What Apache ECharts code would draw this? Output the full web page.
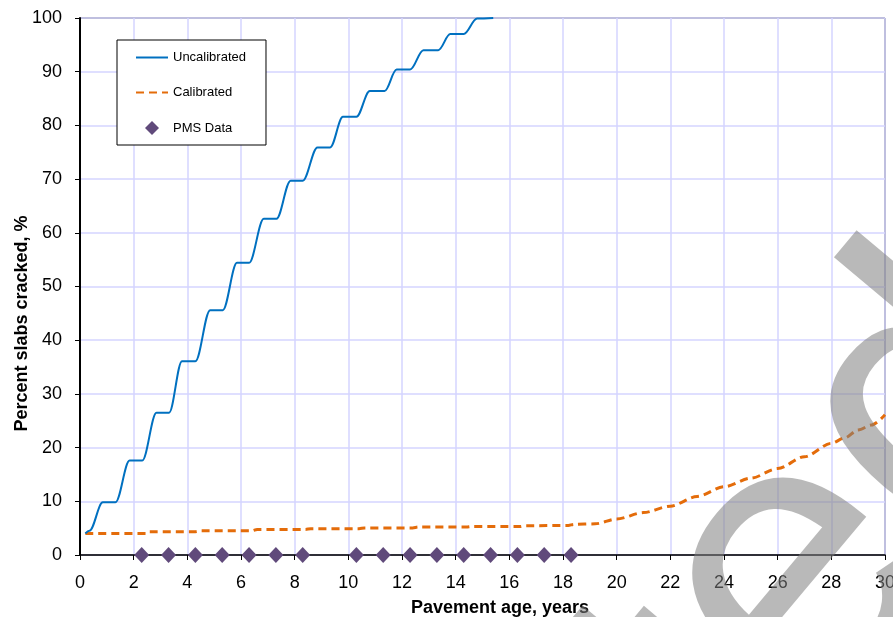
<!DOCTYPE html>
<html>
<head>
<meta charset="utf-8">
<script src="https://cdn.jsdelivr.net/npm/echarts@6/dist/echarts.min.js"></script>
<style>html,body{margin:0;padding:0;background:#fff}#c{width:893px;height:617px}</style>
</head>
<body>
<div id="c"></div>
<script>
// Uncalibrated (years, % cracked)
const uncalX = [0.2,0.35,0.85,1.32,1.85,2.32,2.85,3.32,3.8,4.3,4.85,5.32,5.85,6.3,6.85,7.32,7.85,8.3,8.85,9.32,9.8,10.3,10.8,11.35,11.8,12.3,12.8,13.35,13.8,14.3,14.8,15.4];
const uncalY = [4.0,4.5,9.8,9.8,17.6,17.6,26.5,26.5,36.1,36.1,45.6,45.6,54.4,54.4,62.6,62.6,69.7,69.7,75.9,75.9,81.6,81.6,86.4,86.4,90.4,90.4,94.0,94.0,97.0,97.0,99.9,100];
// Calibrated
const calX = [0.2,2.5,2.6,4.3,4.5,6.4,6.6,8.4,8.6,10.4,10.6,12.4,12.6,14.4,14.6,16.4,16.6,18.2,18.4,19.2,20,21,22,23,24,25,26,27,28,28.5,29,29.5,30];
const calY = [4.0,4.0,4.35,4.35,4.5,4.5,4.75,4.75,4.9,4.9,5.05,5.05,5.2,5.2,5.3,5.3,5.45,5.5,5.7,5.8,6.7,7.9,9.1,10.9,12.7,14.3,16.1,18.3,20.8,21.8,23.3,24.2,26.1];
// PMS data
const pmsX = [2.3,3.3,4.3,5.3,6.3,7.3,8.3,10.3,11.3,12.3,13.3,14.3,15.3,16.3,17.3,18.3];
const pmsY = [0,0,0,0,0,0,0,0,0,0,0,0,0,0,0,0];

const zip = (a,b) => a.map((v,i)=>[v,b[i]]);
const FONT = '"Liberation Sans", Arial, sans-serif';

const chart = echarts.init(document.getElementById('c'), null, {renderer:'canvas'});
chart.setOption({
  animation:false,
  backgroundColor:'#fff',
  textStyle:{fontFamily:FONT},
  grid:{left:80,right:8,top:18,bottom:62,containLabel:false,outerBoundsMode:'none',
        show:true,borderColor:'#000',borderWidth:1,backgroundColor:'transparent'},
  legend:{
    orient:'vertical',left:117,top:40,
    padding:[11,20,10,18],itemGap:22,itemWidth:32,itemHeight:14,
    backgroundColor:'#fff',borderColor:'#000',borderWidth:1,
    textStyle:{fontSize:13,color:'#000',fontFamily:FONT},
    data:[
      {name:'Uncalibrated',itemStyle:{opacity:0}},
      {name:'Calibrated',itemStyle:{opacity:0}},
      {name:'PMS Data',icon:'path://M5,0 L10,5 L5,10 L0,5 Z'}
    ]
  },
  xAxis:{
    type:'value',min:0,max:30,interval:2,
    name:'Pavement age, years',nameLocation:'middle',nameGap:44,
    nameTextStyle:{fontSize:18,fontWeight:'bold',color:'#000',padding:[0,0,0,35]},
    axisLine:{onZero:false,lineStyle:{color:'#000',width:1.5}},
    axisTick:{show:true,length:5,lineStyle:{color:'#000'}},
    axisLabel:{fontSize:18,color:'#000',margin:19},
    splitLine:{show:true,lineStyle:{color:'#d4d4ff',width:1.5}}
  },
  yAxis:{
    type:'value',min:0,max:100,interval:10,
    name:'Percent slabs cracked, %',nameLocation:'middle',nameGap:49,nameMoveOverlap:false,
    nameTextStyle:{fontSize:18,fontWeight:'bold',color:'#000',padding:[0,74,0,0]},
    axisLine:{show:true,lineStyle:{color:'#000',width:2}},
    axisTick:{show:true,length:5,lineStyle:{color:'#000'}},
    axisLabel:{fontSize:18,color:'#000',margin:18},
    splitLine:{show:true,lineStyle:{color:'#d4d4ff',width:1.5}}
  },
  series:[
    {name:'Uncalibrated',type:'line',data:zip(uncalX,uncalY),symbol:'none',smooth:0.35,smoothMonotone:'x',
     lineStyle:{color:'#0070c0',width:2},itemStyle:{color:'#0070c0'},z:3},
    {name:'Calibrated',type:'line',data:zip(calX,calY),symbol:'none',smooth:0.3,smoothMonotone:'x',
     lineStyle:{color:'#e46c0a',width:3,type:[8,5]},itemStyle:{color:'#e46c0a'},z:2},
    {name:'PMS Data',type:'scatter',data:zip(pmsX,pmsY),symbol:'diamond',symbolSize:[15,16],clip:false,
     itemStyle:{color:'#604a7b',opacity:1},z:4}
  ],
  graphic:[
    {type:'text',x:654,y:751,rotation:50*Math.PI/180,z:100,silent:true,
     style:{text:'ted',font:'400px "Liberation Sans", Arial, sans-serif',fill:'rgba(128,128,128,0.55)',textAlign:'left',textVerticalAlign:'middle'}}
  ]
});
</script>
</body>
</html>
